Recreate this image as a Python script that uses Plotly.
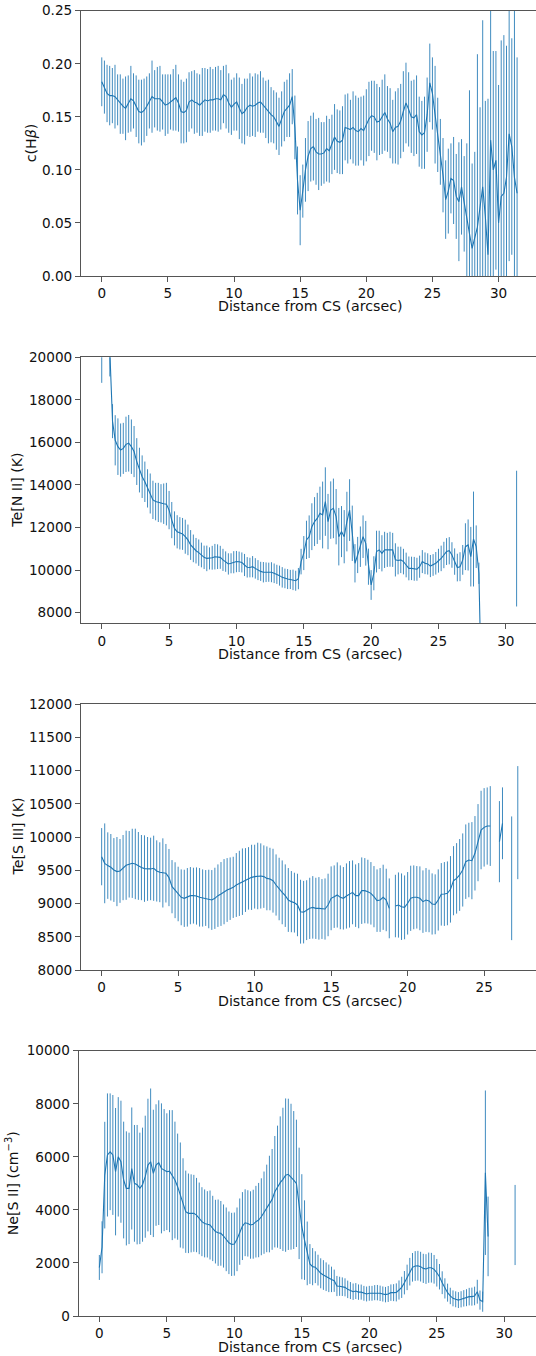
import plotly.graph_objects as go

W, H = 536, 1356
nan = float("nan")

# Distance from central star (arcsec), sampling grid of the spectra
DIST = [0.0, 0.2, 0.4, 0.6, 0.8, 1.0, 1.2, 1.4, 1.6, 1.8, 2.0, 2.2, 2.4, 2.6, 2.8,
        3.0, 3.2, 3.4, 3.6, 3.8, 4.0, 4.2, 4.4, 4.6, 4.8, 5.0, 5.2, 5.4, 5.6, 5.8,
        6.0, 6.2, 6.4, 6.6, 6.8, 7.0, 7.2, 7.4, 7.6, 7.8, 8.0, 8.2, 8.4, 8.6, 8.8,
        9.0, 9.2, 9.4, 9.6, 9.8, 10.0, 10.2, 10.4, 10.6, 10.8, 11.0, 11.2, 11.4, 11.6, 11.8,
        12.0, 12.2, 12.4, 12.6, 12.8, 13.0, 13.2, 13.4, 13.6, 13.8, 14.0, 14.2, 14.4, 14.6, 14.8,
        15.0, 15.2, 15.4, 15.6, 15.8, 16.0, 16.2, 16.4, 16.6, 16.8, 17.0, 17.2, 17.4, 17.6, 17.8,
        18.0, 18.2, 18.4, 18.6, 18.8, 19.0, 19.2, 19.4, 19.6, 19.8, 20.0, 20.2, 20.4, 20.6, 20.8,
        21.0, 21.2, 21.4, 21.6, 21.8, 22.0, 22.2, 22.4, 22.6, 22.8, 23.0, 23.2, 23.4, 23.6, 23.8,
        24.0, 24.2, 24.4, 24.6, 24.8, 25.0, 25.2, 25.4, 25.6, 25.8, 26.0, 26.2, 26.4, 26.6, 26.8,
        27.0, 27.2, 27.4, 27.6, 27.8, 28.0, 28.2, 28.4, 28.6, 28.8, 29.0, 29.2, 29.4, 29.6, 29.8,
        30.0, 30.2, 30.4, 30.6, 30.8, 31.0, 31.2, 31.4]

# c(Hbeta)
CHB = [0.183, 0.178, 0.172, 0.170, 0.170, 0.169, 0.166, 0.162, 0.160, 0.158,
       0.162, 0.167, 0.165, 0.160, 0.155, 0.154, 0.156, 0.160, 0.165, 0.169,
       0.167, 0.167, 0.167, 0.164, 0.161, 0.162, 0.164, 0.166, 0.168, 0.163,
       0.155, 0.154, 0.156, 0.164, 0.166, 0.164, 0.163, 0.161, 0.164, 0.166,
       0.165, 0.166, 0.166, 0.167, 0.167, 0.166, 0.171, 0.169, 0.163, 0.159,
       0.162, 0.164, 0.158, 0.153, 0.155, 0.159, 0.161, 0.160, 0.161, 0.163,
       0.164, 0.161, 0.157, 0.155, 0.152, 0.150, 0.146, 0.141, 0.148, 0.155,
       0.158, 0.161, 0.169, 0.140, 0.090, 0.062, 0.080, 0.100, 0.113, 0.120,
       0.122, 0.117, 0.115, 0.115, 0.116, 0.120, 0.118, 0.124, 0.131, 0.127,
       0.126, 0.128, 0.140, 0.139, 0.138, 0.140, 0.137, 0.136, 0.139, 0.137,
       0.142, 0.148, 0.151, 0.150, 0.145, 0.146, 0.150, 0.154, 0.148, 0.144,
       0.136, 0.140, 0.141, 0.146, 0.155, 0.163, 0.157, 0.150, 0.149, 0.152,
       0.136, 0.133, 0.135, 0.152, 0.182, 0.172, 0.152, 0.133, 0.117, 0.095,
       0.072, 0.080, 0.092, 0.090, 0.075, 0.070, 0.084, 0.068, 0.056, 0.040,
       0.026, 0.037, 0.046, 0.065, 0.084, 0.056, 0.020, 0.128, 0.100, 0.109,
       0.050, 0.075, 0.078, 0.093, 0.134, 0.122, 0.093, 0.078]
CHB_ERR = [0.023, 0.025, 0.027, 0.028, 0.026, 0.030, 0.024, 0.028, 0.026, 0.030,
           0.027, 0.031, 0.026, 0.029, 0.030, 0.031, 0.030, 0.028, 0.026, 0.034,
           0.027, 0.030, 0.031, 0.026, 0.029, 0.028, 0.026, 0.029, 0.031, 0.027,
           0.030, 0.029, 0.030, 0.028, 0.027, 0.030, 0.028, 0.029, 0.032, 0.030,
           0.030, 0.031, 0.029, 0.030, 0.031, 0.028, 0.027, 0.030, 0.028, 0.026,
           0.025, 0.027, 0.029, 0.028, 0.031, 0.027, 0.030, 0.028, 0.030, 0.027,
           0.029, 0.026, 0.027, 0.030, 0.026, 0.025, 0.027, 0.027, 0.026, 0.028,
           0.027, 0.030, 0.026, 0.030, 0.032, 0.033, 0.025, 0.030, 0.033, 0.031,
           0.032, 0.031, 0.034, 0.030, 0.029, 0.031, 0.030, 0.028, 0.031, 0.030,
           0.030, 0.032, 0.031, 0.033, 0.028, 0.034, 0.033, 0.032, 0.030, 0.033,
           0.034, 0.035, 0.033, 0.034, 0.036, 0.032, 0.035, 0.036, 0.031, 0.033,
           0.030, 0.034, 0.036, 0.035, 0.038, 0.038, 0.035, 0.034, 0.036, 0.037,
           0.033, 0.032, 0.034, 0.035, 0.037, 0.034, 0.046, 0.035, 0.031, 0.035,
           0.037, 0.040, 0.033, 0.041, 0.040, 0.056, 0.045, 0.045, 0.069, 0.135,
           0.080, 0.080, 0.163, 0.094, 0.157, 0.109, 0.147, 0.145, 0.112, 0.103,
           0.130, 0.147, 0.149, 0.124, 0.120, 0.102, 0.160, 0.128]

# Te[N II] (K)
TE_NII = [20800, nan, nan, 20300, 17000, 16100, 15800, 15640, 15720, 15910,
          15960, 15800, 15570, 15100, 14700, 14390, 14150, 13840, 13600, 13300,
          13220, 13180, 13140, 13120, 13100, 12820, 12350, 11960, 11800, 11730,
          11700, 11570, 11420, 11180, 11020, 10910, 10820, 10710, 10600, 10550,
          10550, 10580, 10630, 10630, 10600, 10480, 10400, 10290, 10320, 10370,
          10400, 10390, 10360, 10240, 10130, 10120, 10160, 10080, 10000, 9940,
          9900, 9900, 9900, 9900, 9850, 9800, 9740, 9660, 9610, 9580,
          9560, 9540, 9500, 9600, 10400, 10800, 11420, 11570, 12040, 12280,
          12430, 12670, 12590, 13220, 12280, 12820, 12900, 12510, 11570, 11810,
          11570, 12280, 12820, 11730, 10320, 10710, 11100, 11570, 11260, 10160,
          9300, 9850, 10870, 10950, 10790, 10950, 10950, 10980, 10950, 10480,
          10450, 10480, 10400, 10240, 10080, 10080, 10060, 10040, 10160, 10400,
          10320, 10290, 10190, 10240, 10320, 10440, 10550, 10710, 10870, 10910,
          10710, 10400, 10120, 10160, 10480, 11100, 11180, 10630, 11460, 11100,
          9850, 4000, nan, nan, nan, nan, nan, nan, nan, nan,
          nan, nan, nan, nan, 11480]
TE_NII_ERR = [2000, nan, nan, 1200, 800, 1180, 1330, 1250, 1200, 1300,
              1330, 1280, 1200, 1100, 1050, 1000, 950, 900, 940, 900,
              880, 920, 900, 950, 1000, 900, 850, 800, 780, 760,
              750, 800, 720, 700, 650, 600, 620, 580, 550, 600,
              520, 560, 600, 580, 540, 520, 480, 500, 470, 520,
              500, 480, 470, 520, 480, 460, 500, 480, 470, 450,
              480, 460, 450, 470, 460, 450, 470, 480, 460, 470,
              450, 480, 470, 500, 600, 800, 900, 1000, 1100, 1150,
              1200, 1250, 1570, 1610, 1300, 1350, 1400, 1300, 1350, 1200,
              1250, 1400, 1450, 1300, 900, 850, 950, 1000, 1050, 850,
              700, 800, 980, 900, 850, 850, 800, 820, 800, 780,
              650, 620, 600, 580, 560, 550, 560, 540, 520, 540,
              510, 500, 520, 510, 530, 560, 600, 620, 630, 640,
              600, 620, 650, 680, 700, 1100, 1200, 1400, 2230, 1000,
              500, 1000, nan, nan, nan, nan, nan, nan, nan, nan,
              nan, nan, nan, nan, 3190]

# Te[S III] (K)
TE_SIII = [9704, 9604, 9570, 9545, 9504, 9480, 9490, 9540, 9575, 9590,
           9604, 9595, 9565, 9540, 9525, 9520, 9520, 9530, 9490, 9470,
           9460, 9455, 9390, 9253, 9200, 9143, 9093, 9078, 9093, 9118,
           9118, 9113, 9093, 9083, 9083, 9068, 9053, 9078, 9118, 9143,
           9178, 9203, 9223, 9243, 9278, 9303, 9328, 9353, 9378, 9393,
           9404, 9414, 9414, 9404, 9378, 9368, 9343, 9278, 9218, 9168,
           9118, 9053, 9028, 9013, 8978, 8877, 8870, 8900, 8927, 8942,
           8927, 8927, 8917, 8917, 8978, 9078, 9103, 9128, 9093, 9078,
           9113, 9138, 9168, 9118, 9118, 9193, 9193, 9178, 9153, 9103,
           9043, 9053, 9093, 9053, 8927, nan, 8962, 8977, 8952, 8942,
           9003, 9078, 9093, 9093, 9078, 9028, 9053, 9038, 8993, 8988,
           9053, 9138, 9143, 9153, 9213, 9343, 9378, 9429, 9504, 9629,
           9654, 9644, 9755, 9915, 10105, 10145, 10165, 10165, nan, nan,
           9930, 10206, nan, nan, 9379, nan, 10216]
TE_SIII_ERR = [430, 600, 500, 500, 480, 520, 480, 490, 520, 500,
               520, 530, 510, 490, 500, 480, 470, 490, 460, 450,
               520, 440, 430, 400, 420, 410, 420, 430, 440, 430,
               420, 430, 440, 430, 420, 440, 450, 460, 470, 480,
               490, 480, 470, 460, 480, 490, 500, 480, 470, 490,
               480, 500, 490, 470, 480, 470, 480, 460, 470, 480,
               470, 480, 460, 450, 470, 480, 470, 450, 460, 470,
               460, 470, 450, 460, 470, 480, 470, 490, 480, 470,
               490, 500, 480, 470, 490, 500, 490, 480, 470, 460,
               470, 480, 490, 470, 450, nan, 470, 490, 500, 480,
               470, 490, 480, 470, 480, 470, 480, 470, 460, 450,
               460, 470, 480, 480, 500, 520, 530, 540, 550, 560,
               560, 580, 560, 580, 590, 590, 580, 600, nan, nan,
               610, 540, nan, nan, 930, nan, 850]

# Ne[S II] (cm^-3)
NE_SII = [1830, 2590, 5310, 6070, 6190, 6070, 5440, 6000, 5815, 5125,
          4810, 4810, 5560, 5000, 4950, 4810, 4950, 5250, 5690, 5815,
          5375, 5690, 5780, 5565, 5500, 5440, 5460, 5310, 5125, 4875,
          4560, 4245, 3930, 3870, 3870, 3870, 3805, 3680, 3555, 3490,
          3455, 3430, 3300, 3180, 3140, 3115, 3015, 2890, 2760, 2700,
          2710, 2890, 3180, 3390, 3515, 3490, 3430, 3460, 3555, 3615,
          3740, 3895, 4055, 4220, 4395, 4685, 4875, 5025, 5150, 5310,
          5340, 5250, 5125, 5000, 4245, 3365, 2860, 2360, 1960, 1860,
          1840, 1730, 1610, 1545, 1480, 1420, 1380, 1330, 1130, 1120,
          1105, 1080, 1005, 960, 915, 940, 900, 900, 855, 830,
          855, 855, 880, 880, 855, 830, 805, 830, 880, 880,
          890, 980, 1080, 1255, 1455, 1670, 1835, 1885, 1895, 1860,
          1795, 1770, 1820, 1820, 1760, 1630, 1480, 1255, 1040, 880,
          755, 665, 630, 600, 630, 665, 690, 730, 730, 755,
          915, 600, 540, 5400, 3000, nan, nan, nan, nan, nan,
          nan, nan, nan, nan, 3430]
NE_SII_ERR = [470, 980, 2010, 2320, 2200, 2260, 2400, 2250, 2300, 2200,
              2150, 2100, 2300, 2200, 2250, 2100, 2150, 2300, 2500, 2760,
              2400, 2290, 2350, 2450, 2300, 2200, 2300, 2450, 2200, 2000,
              1980, 1700, 1550, 1500, 1470, 1450, 1400, 1350, 1300, 1280,
              1250, 1300, 1230, 1200, 1250, 1220, 1190, 1200, 1180, 1190,
              1190, 1200, 1250, 1280, 1260, 1250, 1270, 1300, 1350, 1400,
              1450, 1550, 1650, 1820, 1900, 2100, 2300, 2500, 2700, 2890,
              2850, 2750, 2600, 2400, 2100, 1980, 1500, 1200, 750, 700,
              600, 580, 565, 560, 540, 520, 480, 420, 380, 360,
              350, 340, 330, 320, 310, 300, 290, 285, 280, 280,
              280, 280, 285, 290, 290, 285, 290, 300, 310, 320,
              340, 360, 400, 440, 480, 520, 540, 560, 560, 560,
              550, 560, 570, 560, 540, 520, 480, 430, 380, 340,
              310, 300, 300, 300, 305, 310, 320, 330, 340, 350,
              450, 360, 380, 3100, 1500, nan, nan, nan, nan, nan,
              nan, nan, nan, nan, 1510]

YLABELS = ["c(H<i>β</i>)", "Te[N II] (K)", "Te[S III] (K)", "Ne[S II] (cm<sup>−3</sup>)"]
XLABEL = "Distance from CS (arcsec)"
X_TICKS = [[0, 5, 10, 15, 20, 25, 30], [0, 5, 10, 15, 20, 25, 30],
           [0, 5, 10, 15, 20, 25], [0, 5, 10, 15, 20, 25, 30]]
Y_TICKS = [[0.00, 0.05, 0.10, 0.15, 0.20, 0.25],
           [8000, 10000, 12000, 14000, 16000, 18000, 20000],
           [8000, 8500, 9000, 9500, 10000, 10500, 11000, 11500, 12000],
           [0, 2000, 4000, 6000, 8000, 10000]]
Y_TICKTEXT = [["0.00", "0.05", "0.10", "0.15", "0.20", "0.25"],
              ["8000", "10000", "12000", "14000", "16000", "18000", "20000"],
              ["8000", "8500", "9000", "9500", "10000", "10500", "11000", "11500", "12000"],
              ["0", "2000", "4000", "6000", "8000", "10000"]]

series = [(CHB, CHB_ERR), (TE_NII, TE_NII_ERR), (TE_SIII, TE_SIII_ERR), (NE_SII, NE_SII_ERR)]

# layout geometry (pixels)
panels = [
    dict(left=81.0, top=10.7, bottom=276.0, xr=[-1.57, 32.83], yr=[0, 0.25], ylab_x=31),
    dict(left=81.0, top=357.3, bottom=623.3, xr=[-1.54, 32.24], yr=[7500, 20000], ylab_x=17.5),
    dict(left=81.0, top=704.0, bottom=970.0, xr=[-1.35, 28.39], yr=[8000, 12000], ylab_x=17.5),
    dict(left=78.7, top=1050.7, bottom=1316.0, xr=[-1.53, 32.35], yr=[0, 10000], ylab_x=12),
]

BLUE = "#1f77b4"
FONT = "DejaVu Sans"
fig = go.Figure()
annotations = []
layout = {}
for i, ((vals, errs), p) in enumerate(zip(series, panels)):
    n = len(vals)
    xs = DIST[:n]
    suf = "" if i == 0 else str(i + 1)
    fig.add_trace(go.Scatter(
        x=xs, y=vals, mode="lines",
        line=dict(color=BLUE, width=1.1),
        error_y=dict(type="data", array=errs, visible=True, color="rgba(31,119,180,0.85)",
                     thickness=1.0, width=0),
        xaxis="x" + suf, yaxis="y" + suf, showlegend=False, hoverinfo="skip"))
    common = dict(showgrid=False, zeroline=False, showline=True, linecolor="#555",
                  linewidth=1.1, ticks="outside", ticklen=5, tickwidth=1.1, automargin=False,
                  tickcolor="#555", tickfont=dict(family=FONT, size=13.6, color="#111"))
    layout["xaxis" + suf] = dict(common, domain=[p["left"] / W, 1.0], range=p["xr"],
                                 tickmode="array", tickvals=X_TICKS[i],
                                 ticktext=[str(t) for t in X_TICKS[i]], mirror=True,
                                 anchor="y" + suf)
    layout["yaxis" + suf] = dict(common, domain=[1 - p["bottom"] / H, 1 - p["top"] / H],
                                 range=p["yr"], tickmode="array", tickvals=Y_TICKS[i],
                                 ticktext=Y_TICKTEXT[i], anchor="x" + suf, mirror=False)
    annotations.append(dict(text=XLABEL, xref="paper", yref="paper", x=310 / W,
                            y=1 - (p["bottom"] + 30.5) / H, xanchor="center", yanchor="middle",
                            showarrow=False, font=dict(family=FONT, size=14.2, color="#111")))
    annotations.append(dict(text=YLABELS[i], xref="paper", yref="paper", x=p["ylab_x"] / W,
                            y=1 - (p["top"] + p["bottom"]) / 2 / H, xanchor="center",
                            yanchor="middle", textangle=-90, showarrow=False,
                            font=dict(family=FONT, size=14.2, color="#111")))

fig.update_layout(width=W, height=H, margin=dict(l=0, r=0, t=0, b=0, autoexpand=False),
                  paper_bgcolor="white", plot_bgcolor="white",
                  annotations=annotations, **layout)
fig.write_html("out.html")
